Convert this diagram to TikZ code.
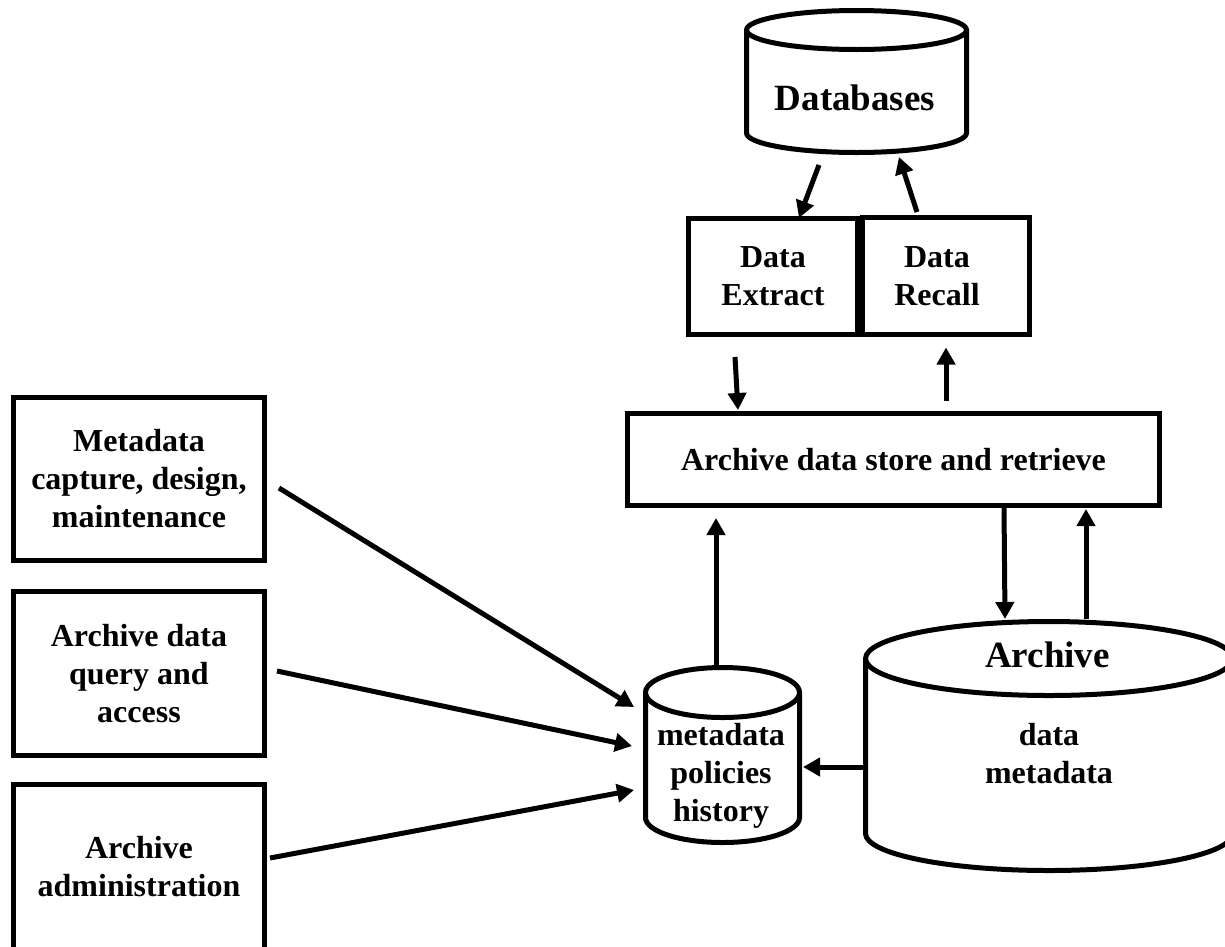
\documentclass[tikz,border=0pt]{standalone}
\usepackage{fontspec}
\setmainfont{Liberation Serif}
\usetikzlibrary{arrows.meta,calc}
\newcommand\drawcyl[5]{%
  \draw[ln] (#1,#2) ellipse [x radius=#4pt, y radius=#5pt];
  \draw[ln] (#1-#4,#2) -- (#1-#4,#3) arc[start angle=180,end angle=360,x radius=#4pt,y radius=#5pt] -- (#1+#4,#2);}
\begin{document}
\begin{tikzpicture}[x=1pt,y=-1pt,
  ln/.style={line width=5pt,line join=miter},
  txt/.style={font=\bfseries\fontsize{32}{38}\selectfont,align=center,inner sep=0pt},
  big/.style={font=\bfseries\fontsize{37}{44}\selectfont,inner sep=0pt},
  box/.style={ln,draw,rectangle,txt},
  arr/.style={line width=5pt,-{Triangle[length=17pt,width=18pt]}}]
\useasboundingbox[fill=white] (0,0) rectangle (1225,946);

% left boxes
\node[box,minimum width=251pt,minimum height=163pt] (b1) at (139,479) {Metadata\\capture, design,\\maintenance};
\node[box,minimum width=251pt,minimum height=164pt] (b2) at (139,673.5) {Archive data\\query and\\access};
\node[box,minimum width=251pt,minimum height=165pt] (b3) at (139,867) {Archive\\administration};

% extract / recall
\node[box,minimum width=169pt,minimum height=116pt] (extract) at (773,276.5) {Data\\Extract};
\node[box,minimum width=167pt,minimum height=117pt] (recall) at (946,276) {Data\hspace*{18pt}\\Recall\hspace*{18pt}};

% store
\node[box,minimum width=532pt,minimum height=92pt] (store) at (893.5,459.5) {Archive data store and retrieve};

% cylinders
\drawcyl{856.5}{30}{133}{110}{19.5}
\node[big] (db) at (855,97.5) {Databases};

\drawcyl{722.5}{692.5}{817.5}{77}{25}
\node[txt] (meta) at (721,775.5) {metadata\\policies\\history};

\drawcyl{1049}{658.5}{833.5}{183.5}{37}
\node[big,anchor=base] (archt) at (1047.5,667) {Archive};
\node[txt] (arch) at (1049,754) {data\\metadata};

% connectors
\draw[arr] ($(db)+(-36,67.5)$) -- ($(extract.north)+(26,2)$);
\draw[arr] ($(recall.north)+(-29,-3)$) -- ($(db)+(44,59.5)$);
\draw[arr] ($(extract.south)+(-38,20)$) -- ($(store.north)+(-155.5,-1)$);
\draw[arr] ($(store.north)+(52.5,-10)$) -- ($(recall.south)+(0,10.5)$);
\draw[arr] ($(meta)+(-5,-110.5)$) -- ($(store.south)+(-177.5,10)$);
\draw[arr] ($(store.south)+(110.5,0)$) -- ($(archt.base)+(-42.5,-48)$);
\draw[arr] ($(archt.base)+(38.5,-48)$) -- ($(store.south)+(192.5,1)$);
\draw[arr] ($(arch)+(-186,13)$) -- ($(meta)+(82,-8.5)$);
\draw[arr] ($(b1.east)+(12,9)$) -- ($(meta)+(-87,-68.5)$);
\draw[arr] ($(b2.east)+(10,-2.5)$) -- ($(meta)+(-89,-29.5)$);
\draw[arr] ($(b3.east)+(3,-9)$) -- ($(meta)+(-87,14.5)$);
\end{tikzpicture}
\end{document}
